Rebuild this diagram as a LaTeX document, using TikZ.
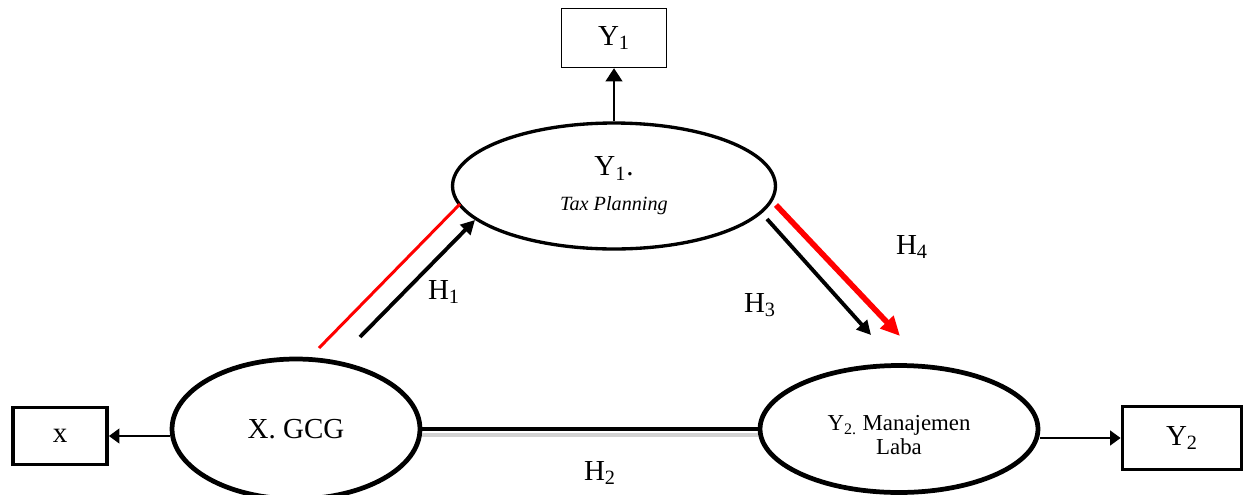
\documentclass[tikz,border=0pt]{standalone}
\usepackage{fontspec}
\setmainfont{Liberation Serif}
\usetikzlibrary{arrows.meta,shapes.geometric}

\begin{document}
\begin{tikzpicture}[x=0.02cm,y=-0.02cm,
  ell/.style={ellipse,draw,line width=2.7pt,inner sep=0},
  box/.style={rectangle,draw,inner sep=0,line width=2.2pt},
  big/.style={font=\fontsize{16.5}{19}\selectfont},
  tipS/.style={-{Triangle[length=6pt,width=8.5pt]}},
  tipM/.style={-{Triangle[length=8pt,width=8pt]}},
  tipL/.style={-{Triangle[length=11pt,width=10pt]}}]
\useasboundingbox (0,0) rectangle (1247,494);
% variables
\node[ell,line width=1.9pt,minimum width=6.46cm,minimum height=2.52cm,align=center] (tax) at (614,186)
  {{\fontsize{16.5}{19}\selectfont Y\textsubscript{1}.}\\[8pt]{\fontsize{11.5}{13}\selectfont\itshape Tax Planning}};
\node[ell,big,minimum width=4.96cm,minimum height=2.8cm] (gcg) at (296,429) {X. GCG};
\node[ell,minimum width=5.56cm,minimum height=2.54cm] (laba) at (899,429) {};
\node[align=center,font=\fontsize{13}{13.5}\selectfont] (labatext) at ([yshift=-3.5pt]laba.center)
  {Y\textsubscript{2.} Manajemen\\Laba};
% indicators
\node[box,big,line width=0.8pt,minimum width=2.1cm,minimum height=1.18cm] (by1) at (614,38) {Y\textsubscript{1}};
\node[box,big,minimum width=1.88cm,minimum height=1.14cm] (bx) at (60,436) {x};
\node[box,big,minimum width=2.38cm,minimum height=1.26cm] (by2) at (1182,438) {Y\textsubscript{2}};
\draw[line width=1.2pt,-{Triangle[length=7.5pt,width=9.5pt]}] (tax.north) -- (by1.south);
\draw[line width=1pt,tipS] (gcg.west |- bx.east) -- (bx.east);
\draw[line width=1pt,tipS] (laba.east |- by2.west) -- (by2.west);
% H2
\draw[gray!35,line width=2.6pt] ([yshift=-3.5pt]gcg.east) -- ([yshift=-3.5pt]laba.west);
\draw[line width=2.8pt] (gcg.east) -- (laba.west);
% diagonal paths
\coordinate (redA) at (319,348); \coordinate (redB) at (460,204);
\coordinate (h1A) at (360,337);  \coordinate (h1B) at (475,220);
\coordinate (h3A) at (767,219);  \coordinate (h3B) at (871,335);
\coordinate (h4A) at (776,205);  \coordinate (h4B) at (900,336);
\draw[red,line width=1.7pt] (redA) -- (redB);
\draw[line width=2.2pt,tipM] (h1A) -- (h1B);
\draw[line width=2.2pt,tipM] (h3A) -- (h3B);
\draw[red,line width=3.2pt,tipL] (h4A) -- (h4B);
% hypotheses
\node[big] (lh1) at (444,292) {H\textsubscript{1}};
\node[big] (lh2) at (600,473) {H\textsubscript{2}};
\node[big] (lh3) at (760,305) {H\textsubscript{3}};
\node[big] (lh4) at (912,247) {H\textsubscript{4}};
\end{tikzpicture}
\end{document}
